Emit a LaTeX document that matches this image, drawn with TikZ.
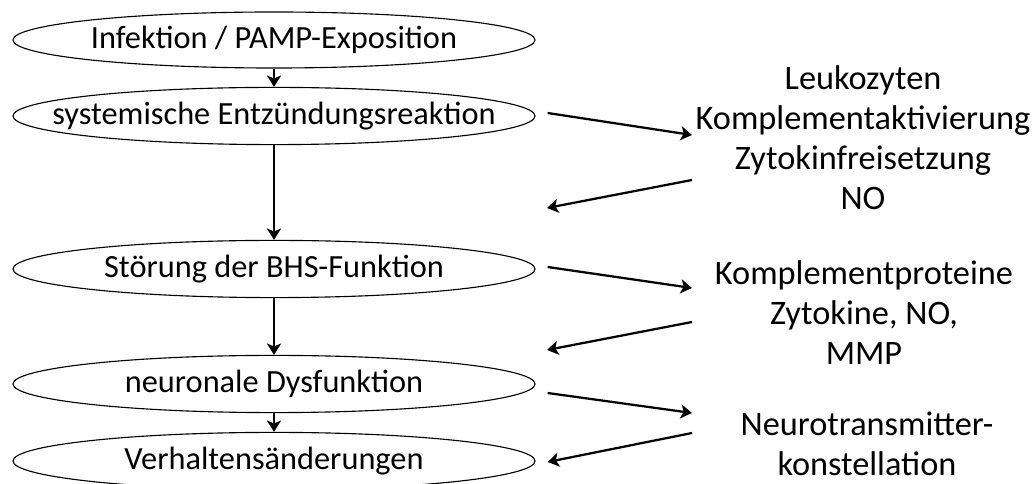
\documentclass[tikz,border=0pt]{standalone}
\usepackage{fontspec}
\setmainfont{Carlito}
\usetikzlibrary{arrows.meta,positioning,shapes.geometric}
\tikzset{
stage/.style={draw, ellipse, line width=0.8pt, minimum width=13.05cm, minimum height=1.43cm, inner xsep=-30pt, inner ysep=0pt, font=\fontsize{23}{28}\selectfont},
factor/.style={align=center, inner sep=0pt, font=\fontsize{24.4}{28.4}\selectfont},
flow/.style={-{Stealth[length=8pt,width=10pt,inset=2pt]}, line width=1.6pt}
}

\begin{document}
\begin{tikzpicture}[x=0.025cm, y=-0.025cm]
  \useasboundingbox (0,0) rectangle (1035,484);
  % main chain
  \node[stage, minimum height=1.4cm] (infekt) at (274,40) {Infektion / PAMP-Exposition};
  \node[stage] (sirs) at (274,116) {systemische Entzündungsreaktion};
  \node[stage] (bhs) at (274,269) {Störung der BHS-Funktion};
  \node[stage] (neuro) at (274,384) {neuronale Dysfunktion};
  \node[stage] (verhalten) at (274,461) {Verhaltensänderungen};
  \draw[flow] (infekt) -- (sirs);
  \draw[flow] (sirs) -- (bhs);
  \draw[flow] (bhs) -- (neuro);
  \draw[flow] (neuro) -- (verhalten);
  % mediators on the right
  \node[factor] (periph) at (863,138) {Leukozyten\\Komplementaktivierung\\Zytokinfreisetzung\\NO};
  \node[factor] (central) at (864,313) {Komplementproteine\\Zytokine, NO,\\MMP};
  \node[factor] (transm) at (867,444) {Neurotransmitter-\\konstellation};
  \coordinate (periphin) at (692,135);
  \coordinate (periphout) at (692,180);
  \coordinate (periphback) at (547,208);
  \coordinate (centralin) at (692,288);
  \coordinate (centralout) at (692,322);
  \coordinate (centralback) at (547,350);
  \coordinate (transmin) at (692,413);
  \coordinate (transmout) at (692,433);
  \draw[flow] ([shift={(12,-3)}]sirs.east) -- (periphin);
  \draw[flow] (periphout) -- (periphback);
  \draw[flow] ([shift={(12,-2)}]bhs.east) -- (centralin);
  \draw[flow] (centralout) -- (centralback);
  \draw[flow] ([shift={(12,9)}]neuro.east) -- (transmin);
  \draw[flow] (transmout) -- ([shift={(12,1)}]verhalten.east);
\end{tikzpicture}
\end{document}
